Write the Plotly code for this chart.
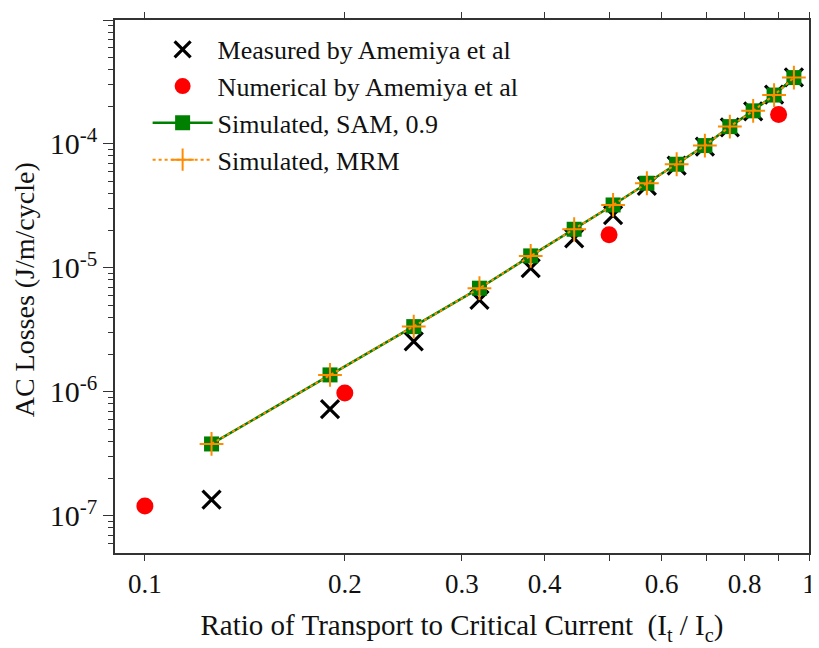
import plotly.graph_objects as go

# ---- data ----
ratio = [0.126, 0.190, 0.254, 0.319, 0.381, 0.443, 0.507, 0.570, 0.632, 0.697, 0.760, 0.824, 0.886, 0.949]
measured = [1.35e-7, 7.25e-7, 2.55e-6, 5.52e-6, 9.94e-6, 1.73e-5, 2.67e-5, 4.6e-5, 6.7e-5, 9.5e-5, 1.36e-4, 1.83e-4, 2.5e-4, 3.45e-4]
num_ratio = [0.1, 0.2, 0.5, 0.9]
numerical = [1.2e-7, 9.8e-7, 1.85e-5, 1.73e-4]
sam = [3.8e-7, 1.37e-6, 3.36e-6, 6.86e-6, 1.25e-5, 2.05e-5, 3.22e-5, 4.82e-5, 6.86e-5, 9.7e-5, 1.38e-4, 1.85e-4, 2.48e-4, 3.43e-4]
mrm = [3.8e-7, 1.37e-6, 3.36e-6, 6.86e-6, 1.25e-5, 2.05e-5, 3.22e-5, 4.82e-5, 6.86e-5, 9.7e-5, 1.38e-4, 1.85e-4, 2.48e-4, 3.43e-4]

x_tickvals = [0.1, 0.2, 0.3, 0.4, 0.6, 0.8, 1]
x_ticktext = ["0.1", "0.2", "0.3", "0.4", "0.6", "0.8", "1"]
x_major = [0.1, 1]
y_tickvals = [1e-7, 1e-6, 1e-5, 1e-4, 1e-3]
y_ticktext = ["10<sup>-7</sup>", "10<sup>-6</sup>", "10<sup>-5</sup>", "10<sup>-4</sup>", "10<sup>-3</sup>"]

FONT = "Liberation Serif, Times New Roman, serif"
AX = "#333333"
XR = [-1.045, 0]
YR = [-7.30, -3]

fig = go.Figure()
fig.add_trace(go.Scatter(x=ratio, y=measured, mode="markers", name="Measured by Amemiya et al",
                         marker=dict(symbol="x-thin", size=18, color="black",
                                     line=dict(color="black", width=3.2))))
fig.add_trace(go.Scatter(x=num_ratio, y=numerical, mode="markers", name="Numerical by Amemiya et al",
                         marker=dict(symbol="circle", size=17, color="#ff0000")))
fig.add_trace(go.Scatter(x=ratio, y=sam, mode="lines+markers", name="Simulated, SAM, 0.9",
                         line=dict(color="#008000", width=2.5),
                         marker=dict(symbol="square", size=15, color="#008000")))
fig.add_trace(go.Scatter(x=ratio, y=mrm, mode="lines+markers", name="Simulated, MRM",
                         line=dict(color="#ff8c00", width=2, dash="dot"),
                         marker=dict(symbol="cross-thin", size=17, color="#ff8c00",
                                     line=dict(color="#ff8c00", width=2))))

# page body has an 8px default margin, so the figure is 811x640 and margins are offset by 8px
fig.update_layout(
    width=811, height=640,
    margin=dict(l=107, r=10, t=12, b=95),
    paper_bgcolor="white", plot_bgcolor="white",
    font=dict(family=FONT, color="black"),
    showlegend=True,
    legend=dict(x=0.047, y=0.989, xanchor="left", yanchor="top",
                bgcolor="rgba(0,0,0,0)", font=dict(size=26, family=FONT, color="#111"),
                tracegroupgap=0, itemwidth=60),
    xaxis=dict(type="log", range=XR, tickvals=x_tickvals, ticktext=x_ticktext,
               ticks="outside", ticklen=6, tickwidth=1.3, tickcolor=AX,
               showline=True, linecolor=AX, linewidth=1.5, mirror="allticks",
               showgrid=False, zeroline=False, automargin=False,
               tickfont=dict(size=27, family=FONT, color="#111"),
               minor=dict(tickvals=[0.09, 0.5, 0.7, 0.9], ticks="outside", ticklen=6,
                          tickcolor=AX, tickwidth=1.3, showgrid=False),
               title=dict(text="Ratio of Transport to Critical Current  (I<sub>t</sub> / I<sub>c</sub>)",
                          font=dict(size=29, family=FONT, color="#111"), standoff=17)),
    yaxis=dict(type="log", range=YR, tickvals=y_tickvals, ticktext=y_ticktext,
               ticks="outside", ticklen=10, tickwidth=1.3, tickcolor=AX,
               showline=True, linecolor=AX, linewidth=1.5, mirror="allticks",
               showgrid=False, zeroline=False, automargin=False,
               tickfont=dict(size=30, family=FONT, color="#111"),
               minor=dict(ticks="outside", ticklen=5, tickcolor=AX, tickwidth=1.2, dtick="D1",
                          showgrid=False)),
    # overlay axes: inner half of the crossing major ticks
    xaxis2=dict(type="log", range=XR, overlaying="x", side="bottom", anchor="y",
                tickvals=x_major, showticklabels=False, ticks="inside", ticklen=11,
                tickwidth=1.3, tickcolor=AX, showline=False, mirror="allticks",
                showgrid=False, zeroline=False, automargin=False),
    yaxis2=dict(type="log", range=YR, overlaying="y", side="left", anchor="x",
                tickvals=y_tickvals, showticklabels=False, ticks="inside", ticklen=11,
                tickwidth=1.3, tickcolor=AX, showline=False, mirror="allticks",
                showgrid=False, zeroline=False, automargin=False),
    annotations=[dict(text="AC Losses (J/m/cycle)", textangle=-90, xref="paper", yref="paper",
                      x=-0.131, y=0.493, xanchor="center", yanchor="middle", showarrow=False,
                      font=dict(size=28, family=FONT, color="#111"))],
)

fig.write_html("out.html")
